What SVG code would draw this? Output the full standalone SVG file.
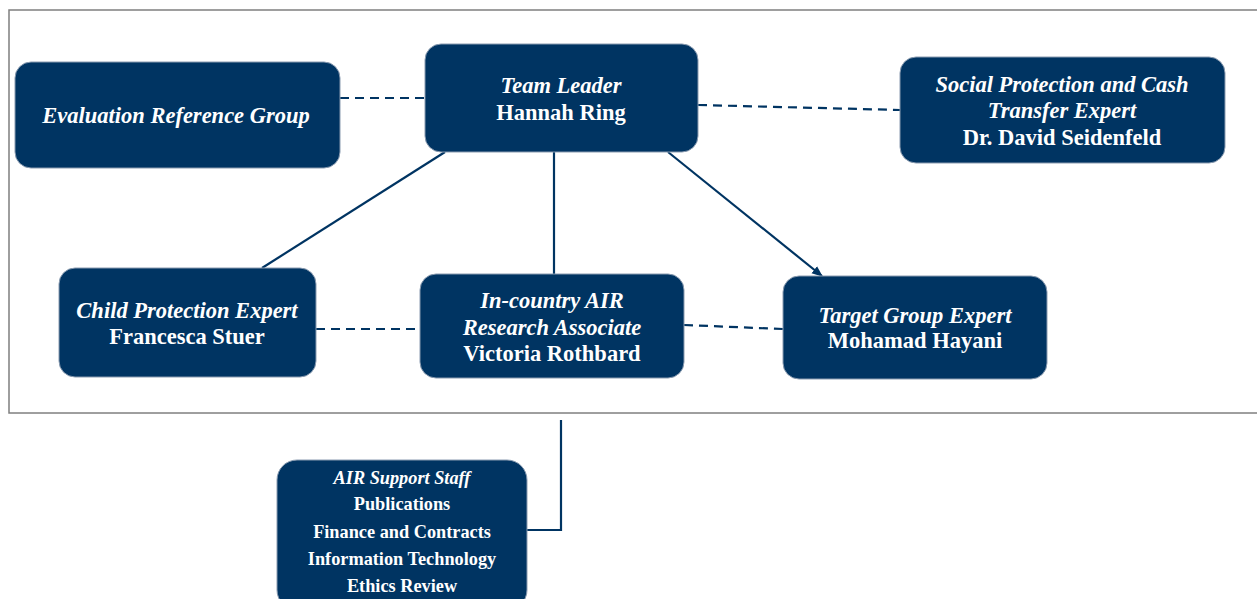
<svg xmlns="http://www.w3.org/2000/svg" width="1257" height="599" viewBox="0 0 1257 599">
<style>
.box{fill:#003462;stroke:#8a9bb0;stroke-width:1}
.t{font-family:"Liberation Serif",serif;fill:#fff;font-weight:bold;text-anchor:middle;font-size:22.5px}
.i{font-style:italic}
.s{font-size:18.3px}
.solid{stroke:#003462;stroke-width:2.2;fill:none}
.dash{stroke:#003462;stroke-width:2.2;fill:none;stroke-dasharray:9,6}
</style>
<defs>
<marker id="ah" viewBox="0 0 10 10" refX="9" refY="5" markerWidth="5" markerHeight="5" orient="auto"><path d="M0,1 L10,5 L0,9 z" fill="#003462"/></marker>
</defs>
<rect x="9" y="10" width="1260" height="403" fill="#fff" stroke="#7f7f7f" stroke-width="1.5"/>
<g id="connectors">
<line class="dash" x1="340" y1="98" x2="425" y2="98"/>
<line class="dash" x1="698" y1="105" x2="900" y2="110"/>
<line class="dash" x1="316" y1="329" x2="420" y2="329"/>
<line class="dash" x1="684" y1="325" x2="783" y2="329"/>
<line class="solid" x1="445" y1="152" x2="262" y2="268"/>
<line class="solid" x1="554" y1="152" x2="554" y2="274"/>
<line class="solid" x1="668" y1="152" x2="822" y2="276" marker-end="url(#ah)"/>
<polyline class="solid" points="561,420 561,530 527,530"/>
</g>
<g id="erg"><rect class="box" x="15" y="62" width="325" height="106" rx="16"/>
<text class="t i" x="176" y="123">Evaluation Reference Group</text></g>
<g id="tl"><rect class="box" x="425" y="44" width="273" height="108" rx="16"/>
<text class="t i" x="561" y="93">Team Leader</text>
<text class="t" x="561" y="120">Hannah Ring</text></g>
<g id="sp"><rect class="box" x="900" y="57" width="325" height="106" rx="16"/>
<text class="t i" x="1062" y="92">Social Protection and Cash</text>
<text class="t i" x="1062" y="118">Transfer Expert</text>
<text class="t" x="1062" y="145">Dr. David Seidenfeld</text></g>
<g id="cp"><rect class="box" x="59" y="268" width="257" height="109" rx="16"/>
<text class="t i" x="187" y="318">Child Protection Expert</text>
<text class="t" x="187" y="344">Francesca Stuer</text></g>
<g id="ic"><rect class="box" x="420" y="274" width="264" height="104" rx="16"/>
<text class="t i" x="552" y="308">In-country AIR</text>
<text class="t i" x="552" y="335">Research Associate</text>
<text class="t" x="552" y="361">Victoria Rothbard</text></g>
<g id="tg"><rect class="box" x="783" y="276" width="264" height="103" rx="16"/>
<text class="t i" x="915" y="323">Target Group Expert</text>
<text class="t" x="915" y="348">Mohamad Hayani</text></g>
<g id="support"><rect class="box" x="277" y="460" width="250" height="150" rx="20"/>
<text class="t i s" x="402" y="484">AIR Support Staff</text>
<text class="t s" x="402" y="510">Publications</text>
<text class="t s" x="402" y="538">Finance and Contracts</text>
<text class="t s" x="402" y="565">Information Technology</text>
<text class="t s" x="402" y="592">Ethics Review</text></g>
</svg>
